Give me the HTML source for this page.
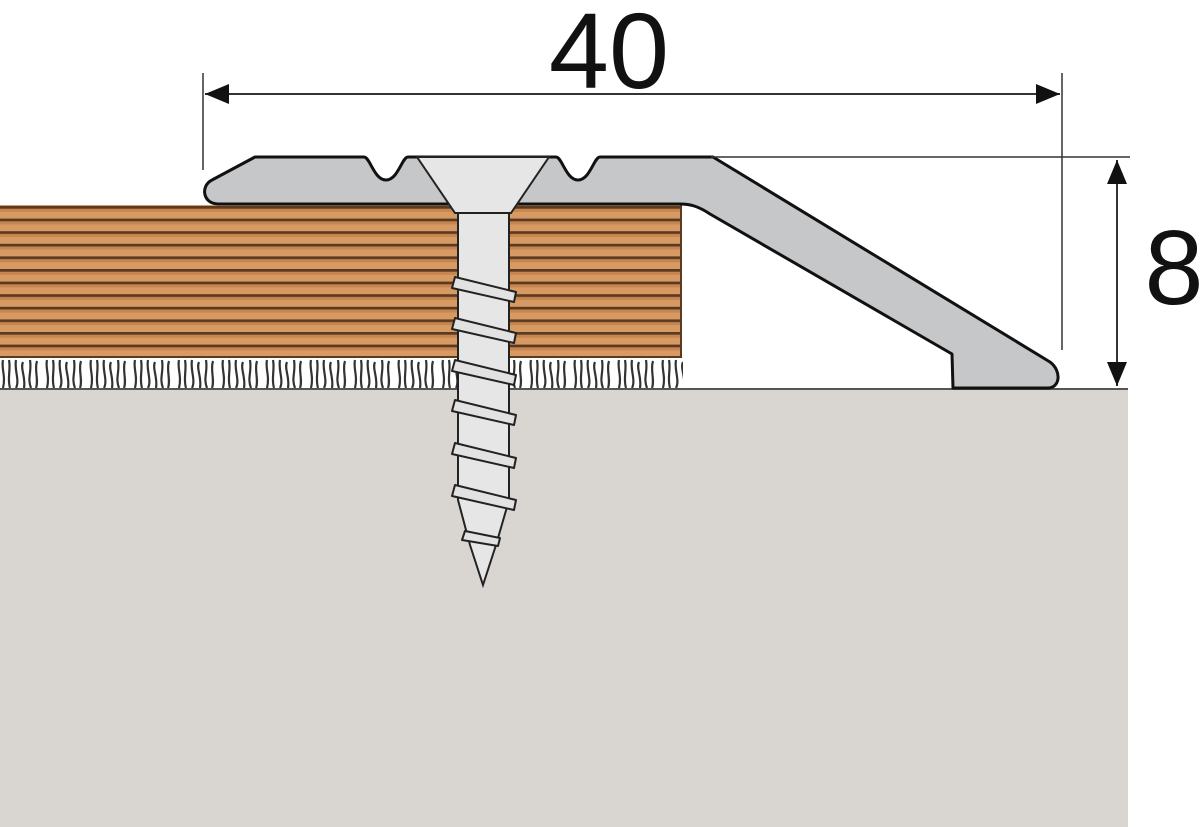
<!DOCTYPE html>
<html><head><meta charset="utf-8"><style>html,body{margin:0;padding:0;background:#fff}svg{display:block}</style></head>
<body>
<svg width="1200" height="827" viewBox="0 0 1200 827" xmlns="http://www.w3.org/2000/svg">
<defs>
<pattern id="wood" x="0" y="206" width="20" height="12.6" patternUnits="userSpaceOnUse">
<rect width="20" height="12.6" fill="#d79a62"/>
<rect y="0" width="20" height="2.8" fill="#5a3a22"/>
<rect y="2.8" width="20" height="3" fill="#c7864f"/>
</pattern>
<pattern id="carpet" x="0" y="358" width="44" height="32" patternUnits="userSpaceOnUse">
<rect width="44" height="32" fill="#fff"/>
<g fill="none" stroke="#333" stroke-width="2.2">
<path d="M3,2 C1,10 6,18 3,30 M9,2 C11,12 7,20 10,30 M16,2 C14,12 20,22 16,30 M23,4 C20,10 26,20 24,30 M30,2 C32,14 27,20 31,30 M37,3 C34,12 39,22 36,30"/>
</g>
</pattern>
</defs>
<rect x="0" y="389" width="1128" height="438" fill="#d9d5d1"/>
<line x1="0" y1="389" x2="1128" y2="389" stroke="#555" stroke-width="2"/>
<rect x="0" y="357" width="683" height="31" fill="url(#carpet)"/>
<rect x="0" y="205" width="682" height="153" fill="url(#wood)"/>
<line x1="0" y1="357" x2="682" y2="357" stroke="#5a3a22" stroke-width="2"/>
<line x1="681" y1="205" x2="681" y2="358" stroke="#5a3a22" stroke-width="2"/>
<path d="M255,157 L364,157 C370,157 374,180 386,180 C398,180 402,157 408,157 L556,157 C562,157 566,180 578,180 C590,180 594,157 600,157 L713,157 L1050,362 C1062,371 1060,388 1048,388 L953,388 L952,354 L710,214 C698,206 690,204 680,204 L218,204 C203,204 200,186 212,180 Z" fill="#c6c7c9" stroke="#111" stroke-width="3" stroke-linejoin="round"/>
<path d="M417,157 L549,157 L511,213 L455,213 Z" fill="#e6e6e6" stroke="#222" stroke-width="2"/>
<path d="M458,213 L509,213 L509,500 L496,545 L483,585 L470,545 L458,500 Z" fill="#e6e6e6" stroke="#222" stroke-width="2"/>
<g fill="#e2e2e2" stroke="#222" stroke-width="2" stroke-linejoin="round">
<path d="M455,277 L516,292 L514,302 L452,288 Z"/>
<path d="M455,318 L516,333 L514,343 L452,329 Z"/>
<path d="M455,360 L516,375 L514,385 L452,371 Z"/>
<path d="M455,400 L516,415 L514,425 L452,411 Z"/>
<path d="M455,443 L516,458 L514,468 L452,454 Z"/>
<path d="M455,485 L516,500 L514,510 L452,496 Z"/>
<path d="M465,531 L500,538 L498,546 L462,540 Z"/>
</g>
<line x1="203" y1="73" x2="203" y2="170" stroke="#333" stroke-width="1.5"/>
<line x1="1062" y1="73" x2="1062" y2="350" stroke="#333" stroke-width="1.5"/>
<line x1="205" y1="94" x2="1060" y2="94" stroke="#333" stroke-width="2"/>
<path d="M205,94 L229,84 L229,104 Z" fill="#111"/>
<path d="M1060,94 L1036,84 L1036,104 Z" fill="#111"/>
<text x="609" y="88" font-family="Liberation Sans, sans-serif" font-size="108" text-anchor="middle" fill="#111">40</text>
<line x1="711" y1="157" x2="1130" y2="157" stroke="#333" stroke-width="1.5"/>
<line x1="1117" y1="160" x2="1117" y2="386" stroke="#333" stroke-width="2"/>
<path d="M1117,160 L1107,184 L1127,184 Z" fill="#111"/>
<path d="M1117,386 L1107,362 L1127,362 Z" fill="#111"/>
<text x="1174" y="304" font-family="Liberation Sans, sans-serif" font-size="106" text-anchor="middle" fill="#111">8</text>
</svg>
</body></html>
